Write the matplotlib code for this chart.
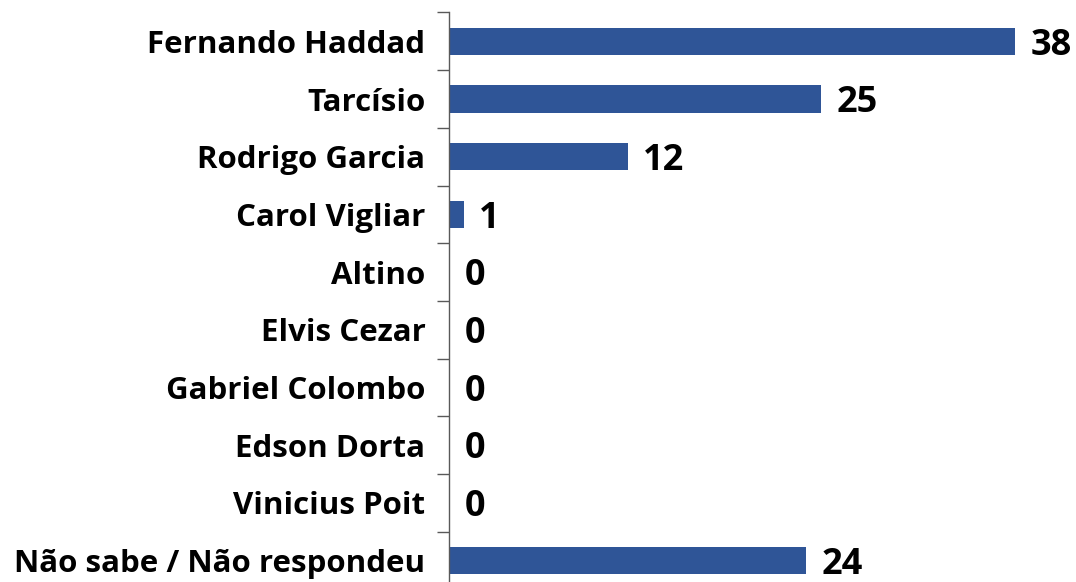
import matplotlib
matplotlib.use("Agg")
import matplotlib.pyplot as plt

categories = ["Fernando Haddad", "Tarcísio", "Rodrigo Garcia", "Carol Vigliar", "Altino",
              "Elvis Cezar", "Gabriel Colombo", "Edson Dorta", "Vinicius Poit",
              "Não sabe / Não respondeu"]
values = [38, 25, 12, 1, 0, 0, 0, 0, 0, 24]

plt.rcParams['font.family'] = ['Open Sans', 'DejaVu Sans']

fig = plt.figure(figsize=(10.76, 5.82), dpi=100)
ax = fig.add_axes([449/1076, 1-589.5/582, 1-449/1076, 577/582])

y = list(range(len(categories)))
ax.barh(y, values, height=0.47, color="#2F5597")
ax.set_ylim(len(categories)-0.5, -0.5)
ax.set_xlim(0, 42.1)

for yi, v in zip(y, values):
    ax.annotate(str(v), (v, yi), xytext=(11, -3), textcoords="offset points",
                ha="left", va="center", fontsize=26, fontweight="bold", color="black")

ax.set_yticks(y)
ax.set_yticklabels(categories, fontsize=22.5, fontweight="bold")
ax.set_yticks([i - 0.5 for i in range(len(categories)+1)], minor=True)
ax.tick_params(axis="y", which="major", length=0, pad=17)
ax.tick_params(axis="y", which="minor", length=9, width=1, color="#595959", direction="out")
ax.set_xticks([])
for s in ["top", "right", "bottom"]:
    ax.spines[s].set_visible(False)
ax.spines["left"].set_color("#595959")
ax.spines["left"].set_linewidth(1)

fig.savefig("out.png", dpi=100)
